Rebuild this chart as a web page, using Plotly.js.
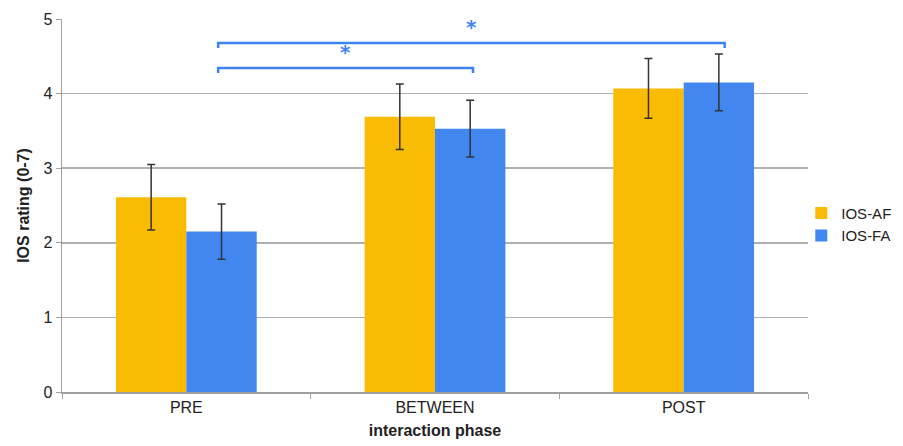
<!DOCTYPE html>
<html>
<head>
<meta charset="utf-8">
<script src="https://cdn.plot.ly/plotly-3.0.1.min.js"></script>
<style>html,body{margin:0;padding:0;background:#fff;}#chart{width:903px;height:446px;}</style>
</head>
<body>
<div id="chart"></div>
<script>
const categories = ["PRE", "BETWEEN", "POST"];
const seriesNames = ["IOS-AF", "IOS-FA"];
const iosAF = [2.61, 3.69, 4.07];
const iosAFerr = [0.44, 0.44, 0.40];
const iosFA = [2.15, 3.53, 4.15];
const iosFAerr = [0.37, 0.38, 0.38];
// significance brackets: [x0, x1, y, label]
const brackets = [
  [0.128, 1.153, 4.343, "*"],
  [0.128, 2.165, 4.678, "*"]
];
const yTicks = [0, 1, 2, 3, 4, 5];

const colors = ["#FABB05", "#4286F0"];
const errStyle = {type: "data", visible: true, color: "#333333", thickness: 1.5, width: 4};

const traces = [
  {type: "bar", name: seriesNames[0], x: categories, y: iosAF,
   error_y: Object.assign({array: iosAFerr}, errStyle),
   marker: {color: colors[0]}},
  {type: "bar", name: seriesNames[1], x: categories, y: iosFA,
   error_y: Object.assign({array: iosFAerr}, errStyle),
   marker: {color: colors[1]}}
];

const shapes = [];
const annotations = [];
const tipDrop = 0.067;
brackets.forEach(b => {
  shapes.push({type: "path", xref: "x", yref: "y",
    path: `M ${b[0]},${b[2]-tipDrop} L ${b[0]},${b[2]} L ${b[1]},${b[2]} L ${b[1]},${b[2]-tipDrop}`,
    line: {color: "#3D84F2", width: 2.5}});
  annotations.push({xref: "x", yref: "y", x: (b[0]+b[1])/2, y: b[2]+0.03, text: "<b>" + b[3] + "</b>",
    showarrow: false, yanchor: "bottom",
    font: {family: "DejaVu Sans, sans-serif", size: 20, color: "#3D84F2"}});
});

const layout = {
  width: 903, height: 446,
  margin: {l: 61.5, r: 94.5, t: 19, b: 54.3, pad: 0, autoexpand: false},
  paper_bgcolor: "#ffffff", plot_bgcolor: "#ffffff",
  barmode: "group", bargap: 0.434, bargroupgap: 0,
  font: {family: "Liberation Sans, Arial, sans-serif", color: "#222222"},
  xaxis: {
    type: "category", range: [-0.5, 2.5],
    showline: true, linecolor: "#a0a0a0", linewidth: 1.5,
    ticks: "outside", tickson: "boundaries", ticklen: 5, tickcolor: "#a0a0a0",
    showgrid: false,
    tickfont: {size: 16, color: "#222222"},
    title: {text: "<b>interaction phase</b>", font: {size: 16, color: "#222222"}, standoff: 10}
  },
  yaxis: {
    range: [0, 5], tickvals: yTicks, ticktext: yTicks.map(String),
    showline: true, linecolor: "#a0a0a0", linewidth: 1.5,
    ticks: "outside", ticklen: 5, tickcolor: "#a0a0a0",
    showgrid: true, gridcolor: "#b0b0b0", gridwidth: 1.5,
    zeroline: false,
    tickfont: {size: 16, color: "#222222"},
    title: {text: "<b>IOS rating (0-7)</b>", font: {size: 16, color: "#222222"}, standoff: 10}
  },
  legend: {x: 0.991, xanchor: "left", y: 0.45, yanchor: "middle",
    font: {size: 15, color: "#222222"}, tracegroupgap: 2, itemwidth: 30,
    bgcolor: "rgba(0,0,0,0)"},
  shapes: shapes,
  annotations: annotations
};

Plotly.newPlot("chart", traces, layout, {displayModeBar: false, staticPlot: true});
</script>
</body>
</html>
